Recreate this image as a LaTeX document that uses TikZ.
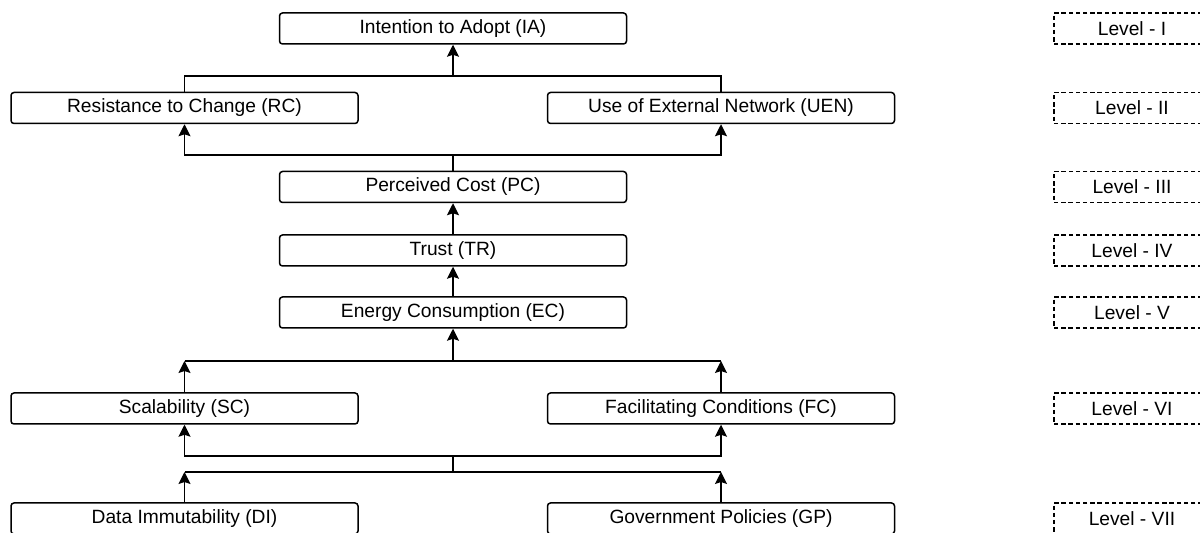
\documentclass[tikz,border=0pt]{standalone}
\usepackage{fontspec}
\setmainfont{Liberation Sans}
\usetikzlibrary{arrows.meta}

\begin{document}
\begin{tikzpicture}[
    x=0.5pt, y=-0.5pt,
    factor/.style={draw, rounded corners=1.5pt, line width=0.75pt,
        minimum width=173.5pt, minimum height=15.5pt, inner sep=0pt,
        font=\fontsize{9.6}{11}\selectfont},
    levelbox/.style={draw, dashed, dash pattern=on 2.2pt off 1.4pt, line width=0.7pt,
        minimum width=78pt, minimum height=15.5pt, inner sep=0pt,
        font=\fontsize{9.6}{11}\selectfont},
    edge/.style={line width=0.75pt},
    arrow/.style={edge, -{Stealth[length=6pt, width=6pt, inset=1pt]}}
]
\useasboundingbox (0,0) rectangle (1200,533);
\clip (0,0) rectangle (1200,533);

% Factors
\node[factor] (IA)  at (453,28.5)  {Intention to Adopt (IA)};
\node[factor] (RC)  at (184.5,108) {Resistance to Change (RC)};
\node[factor] (UEN) at (721,108)   {Use of External Network (UEN)};
\node[factor] (PC)  at (453,187)   {Perceived Cost (PC)};
\node[factor] (TR)  at (453,250.5) {Trust (TR)};
\node[factor] (EC)  at (453,312.5) {Energy Consumption (EC)};
\node[factor] (SC)  at (184.5,408.5) {Scalability (SC)};
\node[factor] (FC)  at (721,408.5)   {Facilitating Conditions (FC)};
\node[factor] (DI)  at (184.5,518.5) {Data Immutability (DI)};
\node[factor] (GP)  at (721,518.5)   {Government Policies (GP)};

% Levels
\node[levelbox] (L1) at (1132,28.5)  {Level - I};
\node[levelbox] (L2) at (1132,108)   {Level - II};
\node[levelbox] (L3) at (1132,187)   {Level - III};
\node[levelbox] (L4) at (1132,250.5) {Level - IV};
\node[levelbox] (L5) at (1132,312.5) {Level - V};
\node[levelbox] (L6) at (1132,408.5) {Level - VI};
\node[levelbox] (L7) at (1132,518.5) {Level - VII};

% Junctions
\coordinate (topj) at (453,76);
\coordinate (midj) at (453,155);
\coordinate (ecj)  at (453,361);
\coordinate (upj)  at (453,456);
\coordinate (lowj) at (453,472);

% Level II -> I
\draw[edge] (RC.north) |- (topj) -| (UEN.north);
\draw[arrow] (topj) -- (IA.south);

% Level III -> II
\draw[edge] (PC.north) -- (midj);
\draw[arrow] (midj) -| (RC.south);
\draw[arrow] (midj) -| (UEN.south);

% Level V -> IV -> III
\draw[arrow] (TR.north) -- (PC.south);
\draw[arrow] (EC.north) -- (TR.south);

% Level VI -> V
\draw[edge] (SC.north |- ecj) -- (FC.north |- ecj);
\draw[arrow] (SC.north) -- (SC.north |- ecj);
\draw[arrow] (FC.north) -- (FC.north |- ecj);
\draw[arrow] (ecj) -- (EC.south);

% Level VII -> VI
\draw[edge] (upj) -- (lowj);
\draw[arrow] (upj) -| (SC.south);
\draw[arrow] (upj) -| (FC.south);
\draw[edge] (DI.north |- lowj) -- (GP.north |- lowj);
\draw[arrow] (DI.north) -- (DI.north |- lowj);
\draw[arrow] (GP.north) -- (GP.north |- lowj);

\end{tikzpicture}
\end{document}
